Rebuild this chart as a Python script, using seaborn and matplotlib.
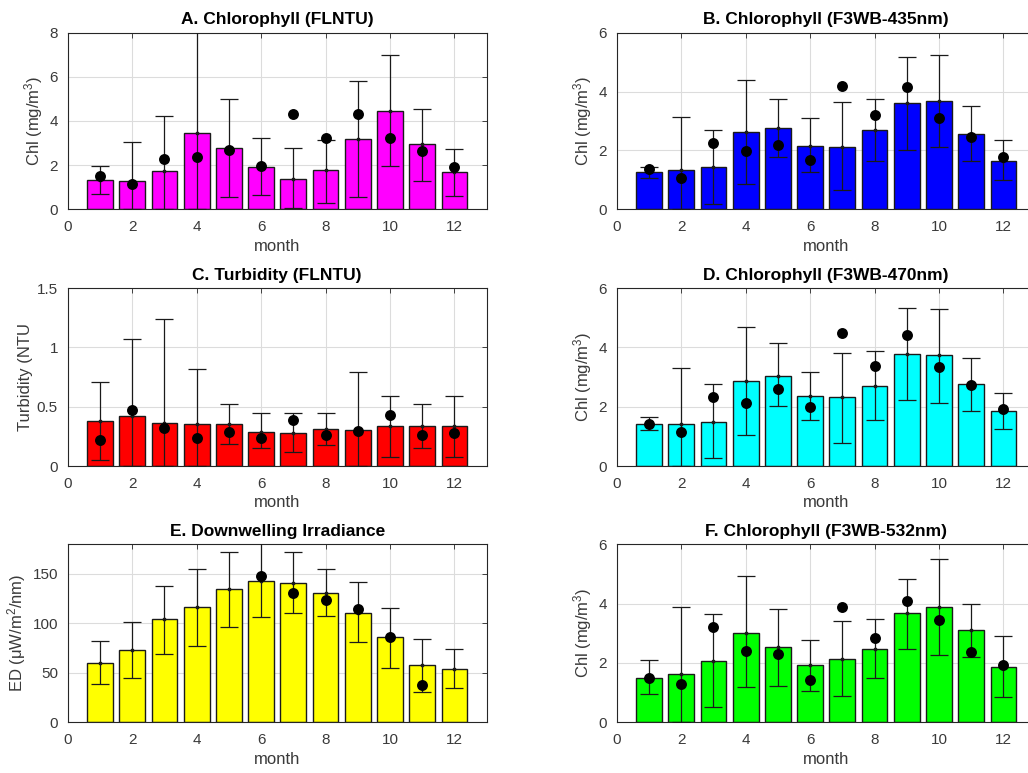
import numpy as np
import pandas as pd
import matplotlib
matplotlib.use("Agg")
import matplotlib.pyplot as plt
import seaborn as sns

# ---- monthly statistics -------------------------------------------------
months = list(range(1, 13))

# A. Chlorophyll (FLNTU)
chl_flntu_mean = [1.33, 1.28, 1.74, 3.47, 2.76, 1.92, 1.39, 1.80, 3.17, 4.44, 2.94, 1.68]
chl_flntu_hi = [1.98, 3.06, 4.21, 8.40, 4.98, 3.25, 2.79, 3.15, 5.83, 6.97, 4.54, 2.72]
chl_flntu_lo = [0.69, 0.00, 0.00, 0.00, 0.57, 0.65, 0.05, 0.30, 0.57, 1.96, 1.27, 0.59]
chl_flntu_pt = [1.51, 1.16, 2.26, 2.35, 2.70, 1.95, 4.32, 3.25, 4.33, 3.23, 2.65, 1.93]

# B. Chlorophyll (F3WB-435nm)
chl_435_mean = [1.26, 1.34, 1.43, 2.64, 2.77, 2.16, 2.12, 2.68, 3.62, 3.68, 2.55, 1.64]
chl_435_hi = [1.45, 3.12, 2.68, 4.40, 3.76, 3.11, 3.63, 3.76, 5.17, 5.23, 3.50, 2.34]
chl_435_lo = [1.08, 0.00, 0.18, 0.87, 1.79, 1.26, 0.65, 1.65, 2.03, 2.13, 1.65, 1.00]
chl_435_pt = [1.37, 1.06, 2.24, 1.99, 2.17, 1.69, 4.20, 3.20, 4.15, 3.10, 2.45, 1.79]

# C. Turbidity (FLNTU)
turb_mean = [0.376, 0.420, 0.365, 0.356, 0.356, 0.290, 0.280, 0.310, 0.300, 0.334, 0.336, 0.336]
turb_hi = [0.707, 1.071, 1.242, 0.820, 0.519, 0.443, 0.450, 0.443, 0.793, 0.589, 0.524, 0.589]
turb_lo = [0.048, 0.000, 0.000, 0.000, 0.188, 0.154, 0.120, 0.174, 0.000, 0.078, 0.154, 0.078]
turb_pt = [0.220, 0.470, 0.320, 0.240, 0.286, 0.233, 0.387, 0.258, 0.297, 0.426, 0.258, 0.278]

# D. Chlorophyll (F3WB-470nm)
chl_470_mean = [1.42, 1.42, 1.50, 2.88, 3.05, 2.36, 2.32, 2.71, 3.78, 3.73, 2.75, 1.84]
chl_470_hi = [1.64, 3.32, 2.75, 4.69, 4.13, 3.18, 3.82, 3.88, 5.33, 5.29, 3.65, 2.45]
chl_470_lo = [1.21, 0.00, 0.26, 1.04, 2.03, 1.55, 0.78, 1.55, 2.23, 2.14, 1.85, 1.25]
chl_470_pt = [1.43, 1.15, 2.33, 2.14, 2.58, 2.00, 4.48, 3.37, 4.42, 3.33, 2.73, 1.92]

# E. Downwelling irradiance
ed_mean = [60.3, 73.1, 104.1, 117.0, 134.8, 142.9, 141.2, 131.1, 110.2, 85.9, 57.6, 53.9]
ed_hi = [81.9, 101.5, 137.5, 155.4, 171.9, 186.0, 171.9, 155.4, 141.6, 115.6, 84.6, 74.1]
ed_lo = [38.4, 44.8, 69.1, 76.8, 96.1, 106.5, 110.5, 107.9, 80.9, 55.3, 31.0, 35.0]
ed_pt = [np.nan, np.nan, np.nan, np.nan, np.nan, 148.3, 130.8, 123.7, 114.9, 86.3, 38.0, np.nan]

# F. Chlorophyll (F3WB-532nm)
chl_532_mean = [1.49, 1.63, 2.06, 3.02, 2.53, 1.92, 2.13, 2.48, 3.67, 3.89, 3.12, 1.88]
chl_532_hi = [2.09, 3.90, 3.64, 4.92, 3.82, 2.79, 3.43, 3.47, 4.84, 5.52, 3.98, 2.91]
chl_532_lo = [0.94, 0.00, 0.51, 1.19, 1.24, 1.07, 0.90, 1.49, 2.48, 2.27, 2.21, 0.85]
chl_532_pt = [1.51, 1.30, 3.20, 2.39, 2.29, 1.44, 3.89, 2.85, 4.09, 3.44, 2.38, 1.94]

CHL_LABEL = r"Chl (mg/m$^3$)"
panels = [
    dict(title="A. Chlorophyll (FLNTU)", ylabel=CHL_LABEL, color="#ff00ff",
         mean=chl_flntu_mean, hi=chl_flntu_hi, lo=chl_flntu_lo, pt=chl_flntu_pt,
         ylim=(0, 8), yticks=[0, 2, 4, 6, 8]),
    dict(title="B. Chlorophyll (F3WB-435nm)", ylabel=CHL_LABEL, color="#0000ff",
         mean=chl_435_mean, hi=chl_435_hi, lo=chl_435_lo, pt=chl_435_pt,
         ylim=(0, 6), yticks=[0, 2, 4, 6]),
    dict(title="C. Turbidity (FLNTU)", ylabel="Turbidity (NTU", color="#ff0000",
         mean=turb_mean, hi=turb_hi, lo=turb_lo, pt=turb_pt,
         ylim=(0, 1.5), yticks=[0, 0.5, 1, 1.5]),
    dict(title="D. Chlorophyll (F3WB-470nm)", ylabel=CHL_LABEL, color="#00ffff",
         mean=chl_470_mean, hi=chl_470_hi, lo=chl_470_lo, pt=chl_470_pt,
         ylim=(0, 6), yticks=[0, 2, 4, 6]),
    dict(title="E. Downwelling Irradiance", ylabel=r"ED ($\mu$W/m$^2$/nm)", color="#ffff00",
         mean=ed_mean, hi=ed_hi, lo=ed_lo, pt=ed_pt,
         ylim=(0, 180), yticks=[0, 50, 100, 150]),
    dict(title="F. Chlorophyll (F3WB-532nm)", ylabel=CHL_LABEL, color="#00ff00",
         mean=chl_532_mean, hi=chl_532_hi, lo=chl_532_lo, pt=chl_532_pt,
         ylim=(0, 6), yticks=[0, 2, 4, 6]),
]

# ---- styling ------------------------------------------------------------
sns.set_theme(style="white", rc={
    "axes.edgecolor": "#262626",
    "axes.linewidth": 0.8,
    "xtick.direction": "in",
    "ytick.direction": "in",
    "xtick.top": True,
    "ytick.right": True,
    "xtick.major.size": 3.5,
    "ytick.major.size": 3.5,
    "xtick.major.width": 0.6,
    "ytick.major.width": 0.6,
    "xtick.color": "#262626",
    "ytick.color": "#262626",
    "xtick.labelcolor": "#3a3a3a",
    "ytick.labelcolor": "#3a3a3a",
    "axes.labelcolor": "#3a3a3a",
    "grid.color": "#dcdcdc",
    "grid.linewidth": 0.8,
})
plt.rcParams["font.family"] = ["Liberation Sans", "DejaVu Sans"]
plt.rcParams["mathtext.fontset"] = "custom"
plt.rcParams["mathtext.rm"] = "Liberation Sans"
plt.rcParams["mathtext.it"] = "Liberation Sans:italic"
plt.rcParams["mathtext.default"] = "regular"

W, H = 1028, 773
fig = plt.figure(figsize=(W / 100, H / 100), dpi=100)

col_left = [67.7, 616.7]
row_box = [(32.7, 209.3), (288.0, 466.0), (544.3, 722.3)]
ax_w = 419.0

for i, p in enumerate(panels):
    r, c = divmod(i, 2)
    top, bot = row_box[r]
    ax = fig.add_axes([col_left[c] / W, 1 - bot / H, ax_w / W, (bot - top) / H])

    df = pd.DataFrame({"month": months, "value": p["mean"]})
    sns.barplot(data=df, x="month", y="value", native_scale=True, width=0.8,
                color=p["color"], saturation=1, edgecolor="#1a1a1a",
                linewidth=1.0, errorbar=None, ax=ax, zorder=2)

    mean = np.asarray(p["mean"])
    yerr = np.vstack([mean - np.asarray(p["lo"]), np.asarray(p["hi"]) - mean])
    ax.errorbar(months, mean, yerr=yerr, fmt=".", color="#1a1a1a",
                ecolor="#1a1a1a", markersize=3.5, elinewidth=0.9,
                capsize=6.5, capthick=0.9, zorder=3)

    pts = pd.DataFrame({"month": months, "value": p["pt"]}).dropna()
    sns.scatterplot(data=pts, x="month", y="value", color="black", s=62,
                    edgecolor="black", linewidth=0, ax=ax, zorder=4)

    ax.set_xlim(0, 13)
    ax.set_ylim(*p["ylim"])
    ax.set_xticks(range(0, 13, 2))
    ax.set_xticklabels([str(v) for v in range(0, 13, 2)])
    ax.set_yticks(p["yticks"])
    ax.set_yticklabels([f"{v:g}" for v in p["yticks"]])
    ax.tick_params(axis="x", labelsize=11, pad=8)
    ax.tick_params(axis="y", labelsize=11, pad=7)
    ax.grid(True)
    ax.set_axisbelow(True)
    ax.set_xlabel("month", fontsize=12, labelpad=3)
    ax.set_ylabel(p["ylabel"], fontsize=12, labelpad=3)
    ax.set_title(p["title"], fontsize=12.5, fontweight="bold", color="black", pad=6)
    for s in ax.spines.values():
        s.set_visible(True)

fig.savefig("out.png", dpi=100)
